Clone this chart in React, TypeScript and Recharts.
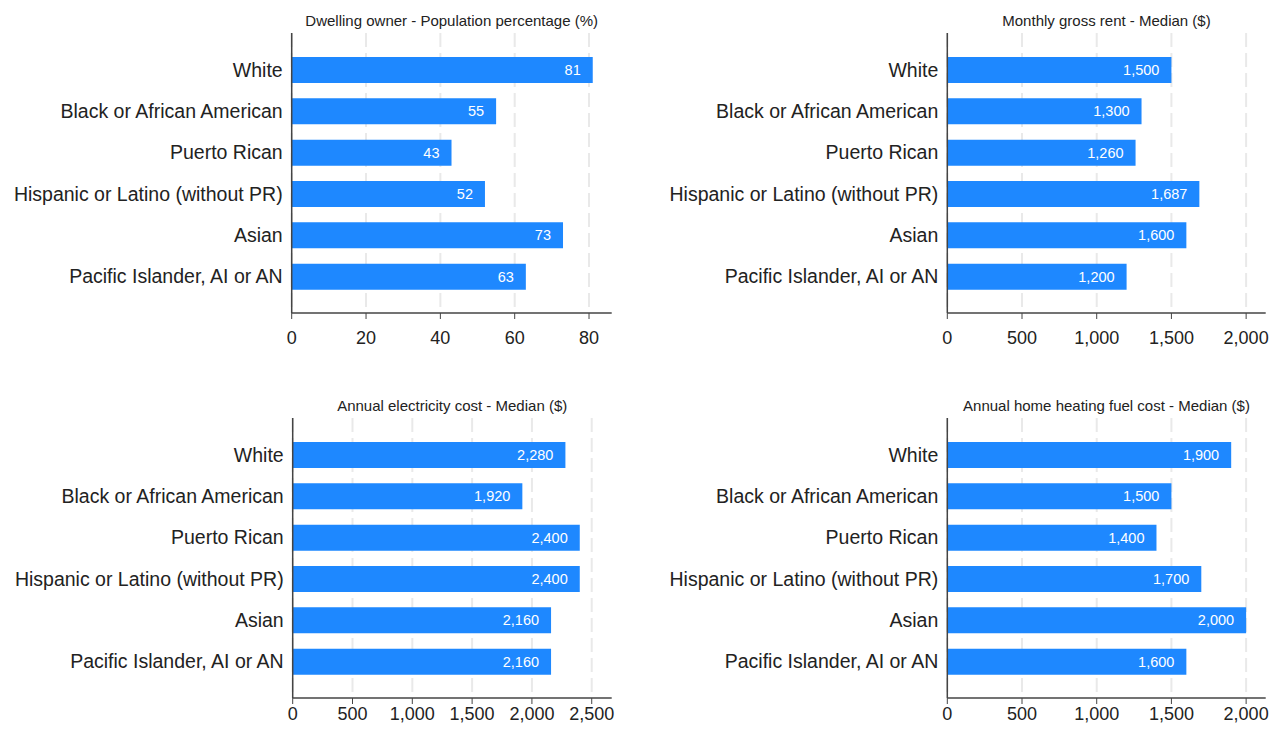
import React from 'react';
import { BarChart, Bar, XAxis, YAxis, CartesianGrid, LabelList } from 'recharts';

// categories shared by all four panels
const categories = [
    'White',
    'Black or African American',
    'Puerto Rican',
    'Hispanic or Latino (without PR)',
    'Asian',
    'Pacific Islander, AI or AN',
];

const ownerPct = [81, 55, 43, 52, 73, 63];
const grossRent = [1500, 1300, 1260, 1687, 1600, 1200];
const electricityCost = [2280, 1920, 2400, 2400, 2160, 2160];
const heatingCost = [1900, 1500, 1400, 1700, 2000, 1600];

const pctTicks = [0, 20, 40, 60, 80];
const rentTicks = [0, 500, 1000, 1500, 2000];
const electricityTicks = [0, 500, 1000, 1500, 2000, 2500];
const heatingTicks = [0, 500, 1000, 1500, 2000];

const FONT = '"Liberation Sans", Arial, Helvetica, sans-serif';
const BAR_COLOR = '#1e88ff';
const AXIS_COLOR = '#444';

const fmt = (v: any) => Number(v).toLocaleString('en-US');

interface PanelProps {
    title: string;
    values: number[];
    ticks: number[];
    domainMax: number;
    left: number;
    top: number;
    width: number;
    axisWidth: number;
    rightMargin: number;
    tickGap: number;
}

const Panel: React.FC<PanelProps> = ({ title, values, ticks, domainMax, left, top, width, axisWidth, rightMargin, tickGap }) => {
    const data = categories.map((name, i) => ({ name, value: values[i] }));
    const plotWidth = width - axisWidth - rightMargin;

    // grid only at the tick values, not at the domain end
    const gridX = (props: any) => {
        const scale = props?.xAxis?.scale;
        if (typeof scale === 'function') return ticks.map(t => scale(t));
        return ticks.map(t => axisWidth + (t / domainMax) * plotWidth);
    };

    return (
        <div style={{ position: 'absolute', left, top, width, height: 385 }}>
            <div
                style={{
                    position: 'absolute',
                    left: axisWidth,
                    width: plotWidth,
                    top: 13,
                    textAlign: 'center',
                    fontFamily: FONT,
                    fontSize: 15,
                    lineHeight: '16px',
                    color: '#222',
                    whiteSpace: 'nowrap',
                }}
            >
                {title}
            </div>
            <BarChart
                width={width}
                height={385}
                data={data}
                layout="vertical"
                margin={{ top: 33, right: rightMargin, left: 0, bottom: 32 }}
                barCategoryGap={0}
            >
                <CartesianGrid
                    horizontal={false}
                    stroke="#e9e9e9"
                    strokeWidth={2}
                    strokeDasharray="14 6"
                    verticalCoordinatesGenerator={gridX}
                />
                <XAxis
                    type="number"
                    domain={[0, domainMax]}
                    ticks={ticks}
                    interval={0}
                    tickFormatter={fmt}
                    height={40}
                    axisLine={{ stroke: AXIS_COLOR, strokeWidth: 1.5 }}
                    tickLine={{ stroke: AXIS_COLOR, strokeWidth: 1 }}
                    tickSize={6}
                    tickMargin={tickGap}
                    tick={{ fontSize: 18, fill: '#222', fontFamily: FONT }}
                />
                <YAxis
                    type="category"
                    dataKey="name"
                    width={axisWidth}
                    padding={{ top: 16, bottom: 16 }}
                    axisLine={{ stroke: AXIS_COLOR, strokeWidth: 1.5 }}
                    tickLine={false}
                    tickSize={0}
                    tickMargin={9}
                    interval={0}
                    tick={{ fontSize: 19.5, fill: '#222', fontFamily: FONT }}
                />
                <Bar dataKey="value" fill={BAR_COLOR} barSize={26} isAnimationActive={false}>
                    <LabelList
                        dataKey="value"
                        position="insideRight"
                        offset={12}
                        fill="#fff"
                        fontSize={14.5}
                        fontFamily={FONT}
                        formatter={fmt}
                    />
                </Bar>
            </BarChart>
        </div>
    );
};

export default function App() {
    return (
        <div style={{ position: 'absolute', left: 0, top: 0, width: 1273, height: 730, overflow: 'hidden', background: '#fff' }}>
            <Panel
                title="Dwelling owner - Population percentage (%)"
                values={ownerPct}
                ticks={pctTicks}
                domainMax={86.1}
                left={0}
                top={0}
                width={636}
                axisWidth={291.7}
                rightMargin={24.3}
                tickGap={12}
            />
            <Panel
                title="Monthly gross rent - Median ($)"
                values={grossRent}
                ticks={rentTicks}
                domainMax={2131}
                left={640}
                top={0}
                width={633}
                axisWidth={307.3}
                rightMargin={7.3}
                tickGap={12}
            />
            <Panel
                title="Annual electricity cost - Median ($)"
                values={electricityCost}
                ticks={electricityTicks}
                domainMax={2667}
                left={0}
                top={385}
                width={636}
                axisWidth={292.7}
                rightMargin={24.3}
                tickGap={3}
            />
            <Panel
                title="Annual home heating fuel cost - Median ($)"
                values={heatingCost}
                ticks={heatingTicks}
                domainMax={2131}
                left={640}
                top={385}
                width={633}
                axisWidth={307.3}
                rightMargin={7.3}
                tickGap={3}
            />
        </div>
    );
}
